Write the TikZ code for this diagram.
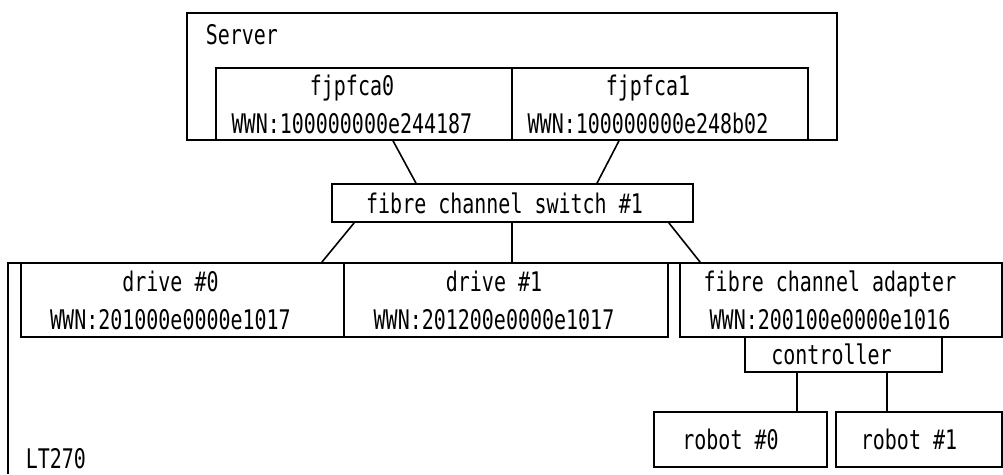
\documentclass[tikz,border=0pt]{standalone}
\usepackage{fontspec}
\newfontfamily\gothic[FakeStretch=0.74]{DejaVu Sans Mono}

\begin{document}
\begin{tikzpicture}[x=1pt,y=-1pt,line width=1.6pt,
	box/.style={draw,rectangle,inner sep=0pt},
	txt/.style={font=\gothic\fontsize{27}{38}\selectfont,align=center,inner sep=0pt}]
	\useasboundingbox (0,0) rectangle (1003,474);
	% server side
	\node[box,minimum width=650pt,minimum height=127pt] (srv) at (512,76.5){};
	\node[box,minimum width=296pt,minimum height=72pt] (fc0) at (364,104){};
	\node[box,minimum width=296pt,minimum height=72pt] (fc1) at (660,104){};
	\node[box,minimum width=361pt,minimum height=38pt] (sw) at (512.5,203){};
	% library side
	\draw (1003,263) -- (8,263) -- (8,474);
	\node[box,minimum width=323pt,minimum height=74pt] (d0) at (182.5,300){};
	\node[box,minimum width=324pt,minimum height=74pt] (d1) at (506,300){};
	\node[box,minimum width=322pt,minimum height=74pt] (fa) at (841,300){};
	\node[box,minimum width=197pt,minimum height=35pt] (ctl) at (843.5,354.5){};
	\node[box,minimum width=173pt,minimum height=55pt] (r0) at (740.5,439.5){};
	\node[box,minimum width=166pt,minimum height=55pt] (r1) at (919,439.5){};
	% texts
	\node[txt,anchor=west] (tsrv) at (205,35){Server};
	\node[txt] (tfc0) at ([xshift=-12pt]fc0){fjpfca0\\WWN:100000000e244187};
	\node[txt] (tfc1) at ([xshift=-12pt]fc1){fjpfca1\\WWN:100000000e248b02};
	\node[txt] (tsw) at ([xshift=-8pt]sw){fibre channel switch \#1};
	\node[txt] (td0) at ([xshift=-12pt]d0){drive \#0\\WWN:201000e0000e1017};
	\node[txt] (td1) at ([xshift=-12pt]d1){drive \#1\\WWN:201200e0000e1017};
	\node[txt] (tfa) at ([xshift=-11pt]fa){fibre channel adapter\\WWN:200100e0000e1016};
	\node[txt] (tctl) at ([xshift=-12pt]ctl){controller};
	\node[txt] (tr0) at ([xshift=-10pt]r0){robot \#0};
	\node[txt] (tr1) at ([xshift=-10pt]r1){robot \#1};
	\node[txt,anchor=west] (tlt) at (25,459){LT270};
	% connections
	\draw ([xshift=29pt]fc0.south) -- ([xshift=-96.5pt]sw.north);
	\draw ([xshift=-41pt]fc1.south) -- ([xshift=84.5pt]sw.north);
	\draw ([xshift=23pt]sw.south west) -- ([xshift=-23pt]d0.north east);
	\draw ([xshift=-0.5pt]sw.south) -- ([xshift=-0.5pt]sw.south |- d1.north);
	\draw ([xshift=-25pt]sw.south east) -- ([xshift=21pt]fa.north west);
	\draw ([xshift=-46.5pt]ctl.south) -- ([xshift=-46.5pt]ctl.south |- r0.north);
	\draw ([xshift=43.5pt]ctl.south) -- ([xshift=43.5pt]ctl.south |- r1.north);
\end{tikzpicture}
\end{document}
